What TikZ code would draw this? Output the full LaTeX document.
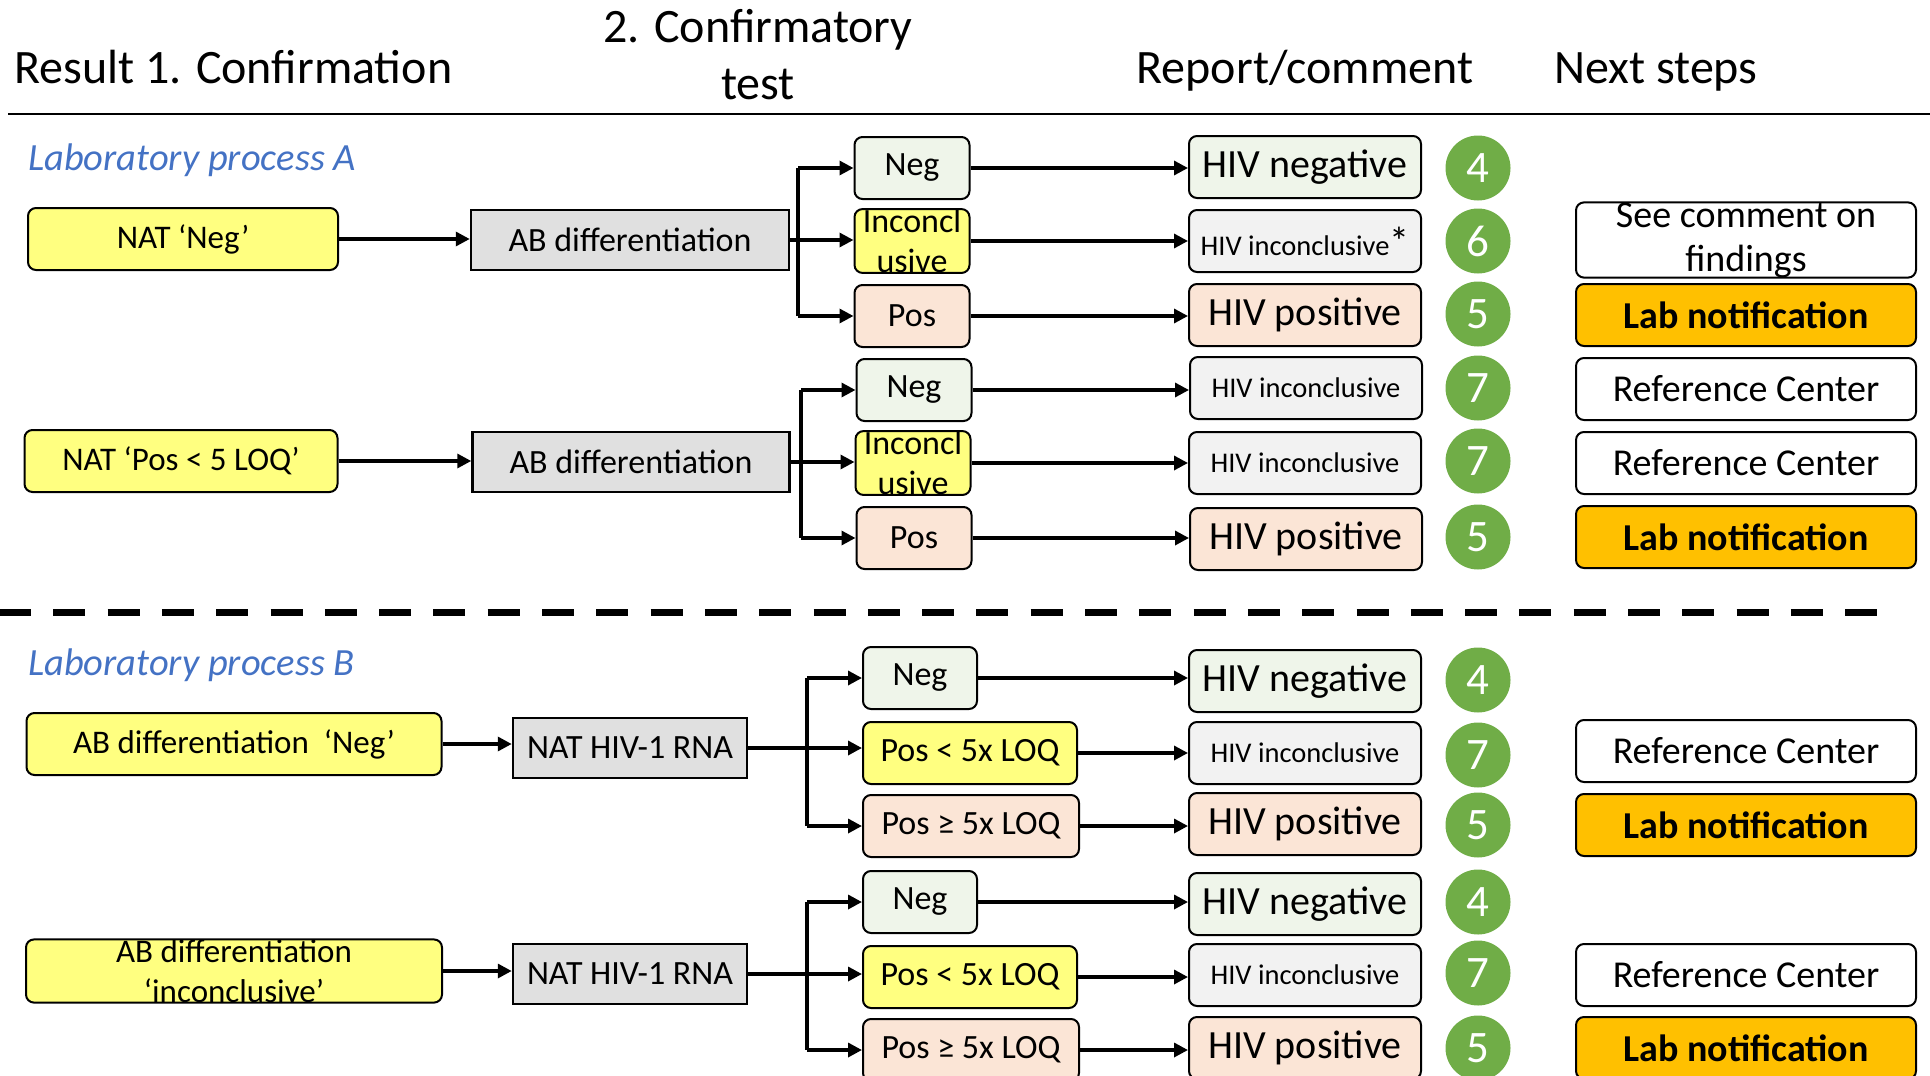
\documentclass[tikz,border=0pt]{standalone}
\usepackage{fontspec}
\setmainfont{Carlito}
\usetikzlibrary{arrows.meta}

\definecolor{boxyellow}{HTML}{FFFF80}
\definecolor{boxgreen}{HTML}{EFF5EA}
\definecolor{boxpeach}{HTML}{FBE5D6}
\definecolor{boxgrey}{HTML}{E0E0E0}
\definecolor{boxlight}{HTML}{F2F2F2}
\definecolor{notify}{HTML}{FFC000}
\definecolor{numgreen}{HTML}{70AD47}
\definecolor{procblue}{HTML}{4472C4}

\newcommand{\setfs}[2]{\fontsize{#1}{#2}\selectfont}

\tikzset{
	head/.style={inner sep=0pt, align=center, font=\setfs{48}{57}},
	proc/.style={anchor=base west, inner sep=0pt, text=procblue, font=\setfs{38.5}{44}\itshape},
	box/.style={draw, line width=2pt, rounded corners=8pt, inner sep=0pt, minimum height=62pt, align=center},
	inbox/.style={box, fill=boxyellow, font=\setfs{33}{40}},
	diffbox/.style={draw, line width=2.5pt, fill=boxgrey, inner sep=0pt, minimum height=60pt, font=\setfs{34}{40}},
	negbox/.style={box, fill=boxgreen, minimum width=115pt, font=\setfs{34}{40}},
	incbox/.style={box, fill=boxyellow, minimum width=115pt, font=\setfs{34}{40}},
	posbox/.style={box, fill=boxpeach, minimum width=115pt, font=\setfs{34}{40}},
	repneg/.style={box, fill=boxgreen, minimum width=232pt, font=\setfs{40}{48}},
	repinc/.style={box, fill=boxlight, minimum width=232pt, font=\setfs{28.5}{34}},
	reppos/.style={box, fill=boxpeach, minimum width=232pt, font=\setfs{40}{48}},
	num/.style={circle, fill=numgreen, minimum size=65pt, inner sep=0pt, text=white, font=\setfs{45}{45}},
	stepbox/.style={box, fill=white, minimum width=340pt, font=\setfs{38}{44}},
	notebox/.style={box, fill=notify, minimum width=340pt, font=\setfs{38}{44}\bfseries},
	conn/.style={line width=3.3pt},
	arr/.style={conn, -{Triangle[length=14pt,width=14pt]}}
}

\begin{document}
\begin{tikzpicture}[x=1pt,y=-1pt]
	\useasboundingbox (0,0) rectangle (1930,1076);
	\node[head, anchor=base west] (hres) at (14,83) {Result 1. Confirmation};
	\node[head] (htest) at (758,55) {2. Confirmatory\\test};
	\node[head, anchor=base] (hrep) at (1305,83) {Report/comment};
	\node[head, anchor=base west] (hnext) at (1554,83) {Next steps};
	\draw[line width=2.5pt] (8,114) -- (1930,114);

	\node[proc] (pa) at (28,170) {Laboratory process A};
	\node[inbox, minimum width=310pt] (in1) at (183,239) {NAT ‘Neg’};
	\node[diffbox, minimum width=318pt] (ct1) at (630,240) {AB differentiation};
	\node[negbox] (t11) at (912,168) {Neg};
	\node[incbox] (t12) at (912,241) {Inconcl\\usive};
	\node[posbox] (t13) at (912,316) {Pos};
	\node[repneg] (r11) at (1305,167) {HIV negative};
	\node[repinc] (r12) at (1305,241) {HIV inconclusive{\setfs{40}{34}*}};
	\node[reppos] (r13) at (1305,315) {HIV positive};
	\node[num] (n11) at (1478,168) {4};
	\node[num] (n12) at (1478,241) {6};
	\node[num] (n13) at (1478,314) {5};
	\node[stepbox] (s12) at (1746,240) {See comment on\\findings};
	\node[notebox] (s13) at (1746,315) {Lab notification};

	\node[inbox, minimum width=313pt] (in2) at (181,461) {NAT ‘Pos < 5 LOQ’};
	\node[diffbox, minimum width=317pt] (ct2) at (631,462) {AB differentiation};
	\node[negbox] (t21) at (914,390) {Neg};
	\node[incbox] (t22) at (913,463) {Inconcl\\usive};
	\node[posbox] (t23) at (914,538) {Pos};
	\node[repinc] (r21) at (1306,388) {HIV inconclusive};
	\node[repinc] (r22) at (1305,463) {HIV inconclusive};
	\node[reppos] (r23) at (1306,539) {HIV positive};
	\node[num] (n21) at (1478,388) {7};
	\node[num] (n22) at (1478,461) {7};
	\node[num] (n23) at (1478,537) {5};
	\node[stepbox] (s21) at (1746,389) {Reference Center};
	\node[stepbox] (s22) at (1746,463) {Reference Center};
	\node[notebox] (s23) at (1746,537) {Lab notification};

	\draw[line width=7pt, dash pattern=on 32pt off 22.3pt] (-1,612) -- (1877,612);

	\node[proc] (pb) at (28,675) {Laboratory process B};
	\node[inbox, minimum width=415pt] (in3) at (234,744) {AB differentiation\ \ ‘Neg’};
	\node[diffbox, minimum width=234pt] (ct3) at (630,748) {NAT HIV-1 RNA};
	\node[negbox, minimum width=114pt] (t31) at (920,678) {Neg};
	\node[incbox, minimum width=214pt] (t32) at (970,753) {Pos < 5x LOQ};
	\node[posbox, minimum width=216pt] (t33) at (971,826) {Pos ≥ 5x LOQ};
	\node[repneg] (r31) at (1305,681) {HIV negative};
	\node[repinc] (r32) at (1305,753) {HIV inconclusive};
	\node[reppos] (r33) at (1305,824) {HIV positive};
	\node[num] (n31) at (1478,680) {4};
	\node[num] (n32) at (1478,755) {7};
	\node[num] (n33) at (1478,825) {5};
	\node[stepbox] (s32) at (1746,751) {Reference Center};
	\node[notebox] (s33) at (1746,825) {Lab notification};

	\node[inbox, minimum width=416pt] (in4) at (234,971) {AB differentiation\\‘inconclusive’};
	\node[diffbox, minimum width=234pt] (ct4) at (630,974) {NAT HIV-1 RNA};
	\node[negbox, minimum width=114pt] (t41) at (920,902) {Neg};
	\node[incbox, minimum width=214pt] (t42) at (970,977) {Pos < 5x LOQ};
	\node[posbox, minimum width=216pt] (t43) at (971,1050) {Pos ≥ 5x LOQ};
	\node[repneg] (r41) at (1305,904) {HIV negative};
	\node[repinc] (r42) at (1305,975) {HIV inconclusive};
	\node[reppos] (r43) at (1305,1048) {HIV positive};
	\node[num] (n41) at (1478,902) {4};
	\node[num] (n42) at (1478,973) {7};
	\node[num] (n43) at (1478,1048) {5};
	\node[stepbox] (s42) at (1746,975) {Reference Center};
	\node[notebox] (s43) at (1746,1048) {Lab notification};

	\coordinate (b1) at (798,0);
	\coordinate (b2) at (801,0);
	\coordinate (b3) at (807,0);
	\coordinate (b4) at (807,0);

	\draw[arr] (in1.east) -- (in1.east -| ct1.west);
	\draw[conn] (b1 |- t11.west) -- (b1 |- t13.west);
	\draw[arr] (b1 |- t11.west) -- (t11.west);
	\draw[arr] (ct1.east) -- (ct1.east -| t12.west);
	\draw[arr] (b1 |- t13.west) -- (t13.west);
	\draw[arr] (t11.east) -- (t11.east -| r11.west);
	\draw[arr] (t12.east) -- (t12.east -| r12.west);
	\draw[arr] (t13.east) -- (t13.east -| r13.west);

	\draw[arr] (in2.east) -- (in2.east -| ct2.west);
	\draw[conn] (b2 |- t21.west) -- (b2 |- t23.west);
	\draw[arr] (b2 |- t21.west) -- (t21.west);
	\draw[arr] (ct2.east) -- (ct2.east -| t22.west);
	\draw[arr] (b2 |- t23.west) -- (t23.west);
	\draw[arr] (t21.east) -- (t21.east -| r21.west);
	\draw[arr] (t22.east) -- (t22.east -| r22.west);
	\draw[arr] (t23.east) -- (t23.east -| r23.west);

	\draw[arr] (in3.east) -- (in3.east -| ct3.west);
	\draw[conn] (b3 |- t31.west) -- (b3 |- t33.west);
	\draw[arr] (b3 |- t31.west) -- (t31.west);
	\draw[arr] (ct3.east) -- (ct3.east -| t32.west);
	\draw[arr] (b3 |- t33.west) -- (t33.west);
	\draw[arr] (t31.east) -- (t31.east -| r31.west);
	\draw[arr] (t32.east) -- (t32.east -| r32.west);
	\draw[arr] (t33.east) -- (t33.east -| r33.west);

	\draw[arr] (in4.east) -- (in4.east -| ct4.west);
	\draw[conn] (b4 |- t41.west) -- (b4 |- t43.west);
	\draw[arr] (b4 |- t41.west) -- (t41.west);
	\draw[arr] (ct4.east) -- (ct4.east -| t42.west);
	\draw[arr] (b4 |- t43.west) -- (t43.west);
	\draw[arr] (t41.east) -- (t41.east -| r41.west);
	\draw[arr] (t42.east) -- (t42.east -| r42.west);
	\draw[arr] (t43.east) -- (t43.east -| r43.west);
\end{tikzpicture}
\end{document}
